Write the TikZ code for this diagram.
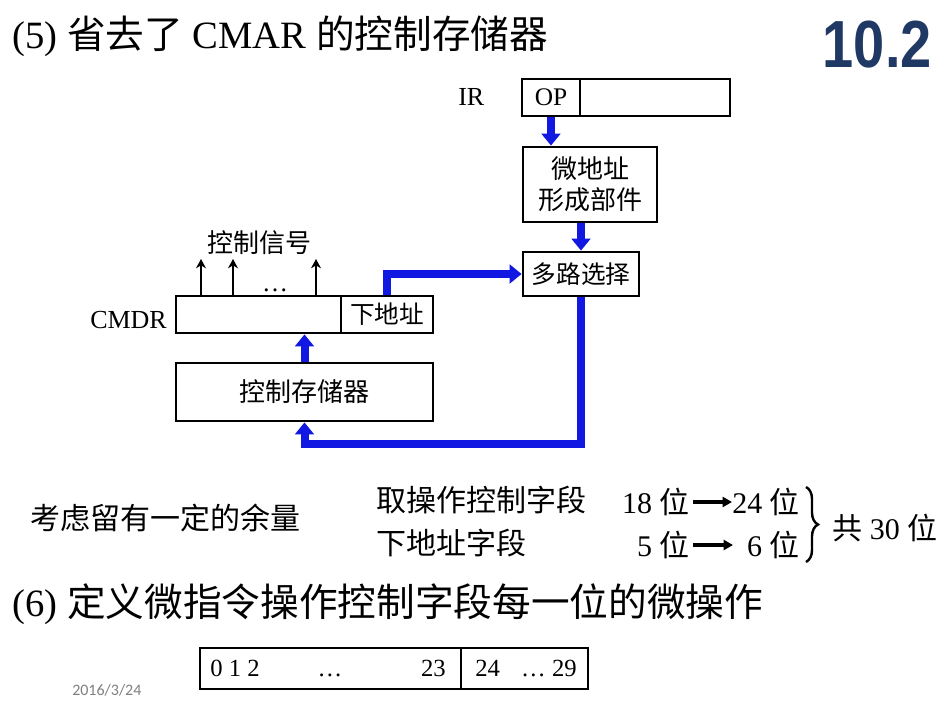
\documentclass[tikz,border=0pt]{standalone}
\usepackage{fontspec}
\usepackage{graphicx}
\setmainfont{Liberation Serif}
\newfontfamily\cjk{Noto Sans CJK SC}
\newfontfamily\headsans{Liberation Sans}
\newfontfamily\datefont{Carlito}
\newcommand{\zhs}[1]{{\cjk #1}}
\usetikzlibrary{arrows.meta,decorations.pathreplacing,calc}
\definecolor{busblue}{RGB}{16,24,226}
\definecolor{headnavy}{RGB}{31,56,100}
\begin{document}
\begin{tikzpicture}[x=0.75pt,y=-0.75pt,
  reg/.style={draw,line width=2.1pt,inner sep=0pt,font=\fontsize{19}{22}\selectfont},
  txt/.style={inner sep=0pt},
  dia/.style={txt,font=\fontsize{19.5}{23}\selectfont},
  body/.style={txt,font=\fontsize{22.5}{26}\selectfont},
  head/.style={txt,font=\fontsize{29}{32}\selectfont},
  fmt/.style={txt,anchor=base,font=\fontsize{18.5}{22}\selectfont},
  bus/.style={busblue,line width=6pt,line join=miter,-{Triangle[length=9pt,width=14pt]}},
  sig/.style={line width=2pt,-{Stealth[length=7pt,width=7.5pt]}},
  pointer/.style={line width=2.4pt,-{Triangle[length=7pt,width=7.5pt]}}]
\useasboundingbox (0,0) rectangle (946,706);
\fill[white] (0,0) rectangle (946,706);

% headings
\node[head,anchor=base west] (t5) at (12,49) {(5) \zhs{省去了} CMAR \zhs{的控制存储器}};
\node[txt,anchor=base east,text=headnavy,font=\headsans\bfseries\fontsize{50}{50}\selectfont] (sec) at (932,68) {\scalebox{0.84}[1]{10.2}};

% instruction register
\node[dia,anchor=base west] (irlbl) at (458,106) {IR};
\node[reg,minimum width=43.5pt,minimum height=27.75pt] (op) at (551,97.5) {OP};
\node[reg,minimum width=112.5pt,minimum height=27.75pt] (irrest) at (655,97.5) {};

% micro-address logic
\node[reg,minimum width=100.5pt,minimum height=56.25pt,align=center,font=\cjk\fontsize{19.5}{23}\selectfont] (micro) at (590,184.5) {微地址\\形成部件};
\node[reg,minimum width=87pt,minimum height=33pt,font=\cjk\fontsize{18.5}{22}\selectfont] (mux) at (581,274) {多路选择};

% control memory data register
\node[dia,anchor=base west] (cmdrlbl) at (90,328) {CMDR};
\node[reg,minimum width=123.75pt,minimum height=27.75pt] (cmdr) at (258.5,314.5) {};
\node[reg,minimum width=69pt,minimum height=27.75pt,font=\cjk\fontsize{18.5}{22}\selectfont] (next) at (387,314.5) {下地址};

% control store
\node[reg,minimum width=192.75pt,minimum height=43.5pt,font=\cjk\fontsize{19.5}{23}\selectfont] (cs) at (304.5,392) {控制存储器};

% control signals
\coordinate (s1) at (201,259);
\coordinate (s2) at (233,259);
\coordinate (s3) at (316,259);
\draw[sig] (s1 |- cmdr.north) -- (s1);
\draw[sig] (s2 |- cmdr.north) -- (s2);
\draw[sig] (s3 |- cmdr.north) -- (s3);
\node[dia,anchor=base] (sigdots) at (275,291) {…};
\node[dia,font=\cjk\fontsize{19.5}{23}\selectfont] (siglbl) at (259,243) {控制信号};

% data paths
\draw[bus] (op.south) -- (op.south |- micro.north);
\draw[bus] (micro.south -| mux.north) -- (mux.north);
\draw[bus] (next.north) |- (mux.west);
\coordinate (turn) at (581,444);
\draw[bus] (mux.south) -- (turn) -| (cs.south);
\draw[bus] (cs.north) -- (cs.north |- cmdr.south);

% field widths
\node[body,anchor=west,font=\cjk\fontsize{22.5}{26}\selectfont] (margin) at (30,518) {考虑留有一定的余量};
\node[body,anchor=west,font=\cjk\fontsize{22.5}{26}\selectfont] (f1) at (376,500) {取操作控制字段};
\node[body,anchor=west,font=\cjk\fontsize{22.5}{26}\selectfont] (f2) at (376,543) {下地址字段};
\node[body,anchor=east] (a1) at (690,502) {18 \zhs{位}};
\node[body,anchor=west] (b1) at (732,502) {24 \zhs{位}};
\node[body,anchor=east] (a2) at (690,545) {5 \zhs{位}};
\node[body,anchor=east] (b2) at (800,545) {6 \zhs{位}};
\draw[pointer] ($(a1.east)+(3,0)$) -- (b1.west);
\draw[pointer] ($(a2.east)+(3,0)$) -- ($(b2.west)+(-14,0)$);
\draw[line width=1.8pt,decorate,decoration={brace,amplitude=9pt}] (806,487) -- (806,562);
\node[body,anchor=west] (total) at (832,528) {\zhs{共} 30 \zhs{位}};

% microinstruction format
\node[head,anchor=base west] (t6) at (12,616) {(6) \zhs{定义微指令操作控制字段每一位的微操作}};
\node[reg,minimum width=195.75pt,minimum height=30.75pt] (ctrlfld) at (330.5,668.5) {};
\node[reg,minimum width=95.25pt,minimum height=30.75pt] (addrfld) at (524.5,668.5) {};
\node[fmt,anchor=base west] (n0) at (210,676) {0 1 2};
\node[fmt] (nd) at (330,676) {…};
\node[fmt,anchor=base east] (n23) at (446,676) {23};
\node[fmt,anchor=base west] (n24) at (475,676) {24};
\node[fmt,anchor=base east] (n29) at (577,676) {… 29};

\node[txt,anchor=west,text=black!50,font=\datefont\fontsize{12}{14}\selectfont] (date) at (72,690) {2016/3/24};
\end{tikzpicture}
\end{document}
